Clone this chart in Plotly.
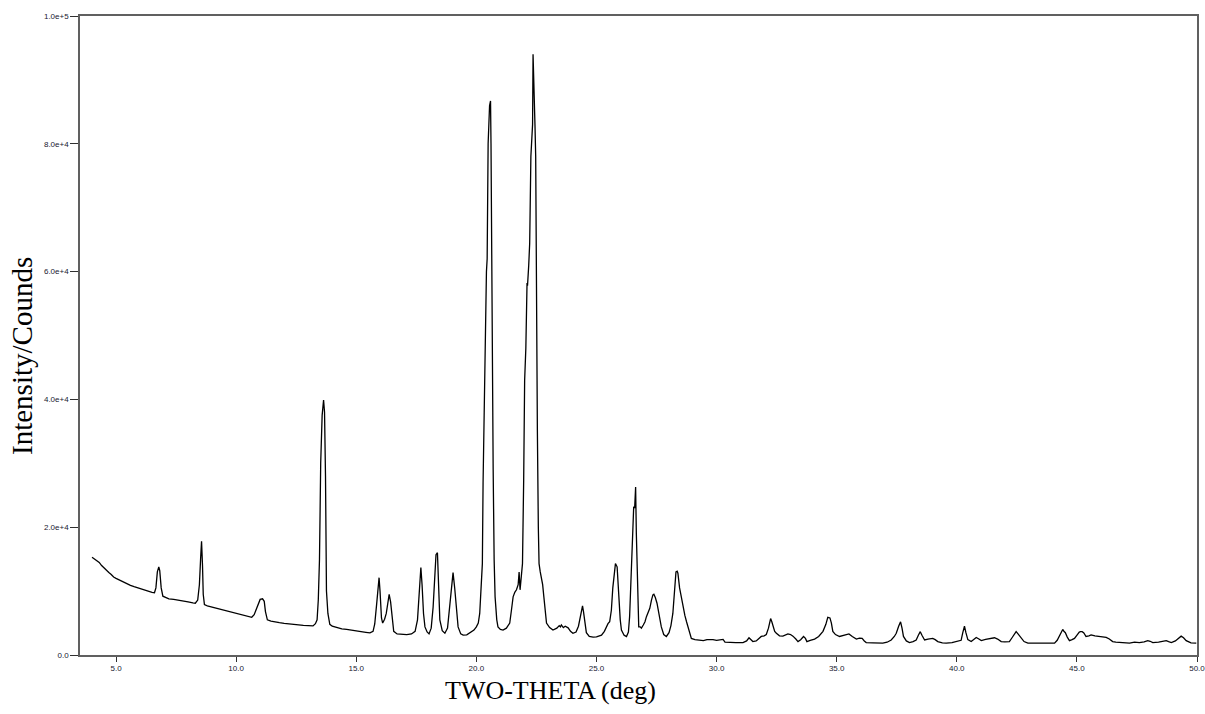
import plotly.graph_objects as go

two_theta = [
 4.00,4.10,4.20,4.30,4.40,4.50,4.60,4.70,4.80,4.90,5.00,5.15,5.30,5.45,5.60,5.75,5.90,6.05,6.20,6.35,6.50,6.60,
 6.66,6.72,6.78,6.82,6.88,6.95,7.05,7.20,7.40,7.60,7.80,8.00,8.20,8.30,8.40,8.47,8.52,8.56,8.60,8.63,8.68,8.80,
 9.00,9.20,9.40,9.60,9.80,10.00,10.20,10.40,10.55,10.65,10.75,10.90,11.00,11.10,11.17,11.22,11.30,11.45,11.60,11.80,
 12.00,12.20,12.40,12.60,12.80,13.00,13.20,13.30,13.37,13.42,13.47,13.52,13.58,13.64,13.68,13.72,13.76,13.82,13.90,
 14.00,14.20,14.40,14.60,14.80,15.00,15.20,15.40,15.57,15.70,15.77,15.85,15.92,15.95,15.99,16.05,16.10,16.18,16.25,
 16.32,16.37,16.43,16.49,16.56,16.70,16.90,17.10,17.30,17.45,17.55,17.62,17.69,17.74,17.80,17.86,17.95,18.03,18.12,
 18.20,18.27,18.32,18.38,18.42,18.48,18.58,18.69,18.80,18.89,18.96,19.03,19.10,19.17,19.24,19.35,19.45,19.60,19.75,
 19.90,20.00,20.08,20.14,20.20,20.25,20.28,20.35,20.42,20.45,20.49,20.55,20.59,20.61,20.63,20.67,20.70,20.74,20.78,
 20.85,20.90,21.00,21.11,21.25,21.39,21.46,21.53,21.60,21.67,21.74,21.78,21.82,21.87,21.92,21.97,22.01,22.06,22.09,
 22.11,22.13,22.18,22.22,22.27,22.30,22.34,22.36,22.40,22.44,22.47,22.50,22.54,22.58,22.61,22.66,22.71,22.76,22.81,
 22.86,22.92,23.05,23.19,23.35,23.45,23.50,23.54,23.62,23.70,23.82,23.92,24.02,24.15,24.25,24.32,24.38,24.42,24.46,
 24.51,24.58,24.70,24.86,25.00,25.21,25.33,25.41,25.48,25.55,25.62,25.68,25.74,25.79,25.86,25.90,25.94,25.99,26.04,
 26.15,26.25,26.33,26.38,26.43,26.48,26.52,26.55,26.59,26.63,26.66,26.69,26.73,26.76,26.82,26.87,26.95,27.02,27.08,
 27.16,27.22,27.29,27.35,27.39,27.45,27.52,27.60,27.70,27.80,27.91,28.02,28.10,28.18,28.26,28.31,28.36,28.39,28.46,
 28.53,28.60,28.68,28.75,28.81,28.88,28.95,29.10,29.30,29.45,29.60,29.71,29.85,30.00,30.15,30.27,30.35,30.54,30.80,
 31.10,31.25,31.35,31.42,31.51,31.65,31.77,31.86,31.98,32.07,32.16,32.25,32.30,32.35,32.42,32.49,32.62,32.76,32.88,
 32.97,33.08,33.18,33.30,33.39,33.50,33.62,33.70,33.76,33.90,34.08,34.25,34.43,34.55,34.63,34.72,34.78,34.84,34.95,
 35.12,35.30,35.51,35.65,35.82,35.95,36.06,36.15,36.23,36.50,36.70,36.92,37.10,37.27,37.40,37.48,37.58,37.66,37.72,
 37.78,37.90,38.03,38.18,38.31,38.40,38.48,38.55,38.66,38.80,39.00,39.10,39.21,39.40,39.56,39.80,40.04,40.18,40.25,
 40.32,40.38,40.46,40.60,40.70,40.81,40.92,41.02,41.20,41.36,41.57,41.70,41.85,42.00,42.19,42.30,42.40,42.47,42.55,
 42.68,42.80,42.96,43.30,43.60,43.85,44.07,44.18,44.27,44.35,44.41,44.46,44.52,44.60,44.69,44.80,44.90,45.02,45.10,
 45.15,45.22,45.29,45.38,45.50,45.59,45.75,45.94,46.10,46.22,46.35,46.49,46.62,46.77,47.00,47.19,47.40,47.60,47.80,
 47.95,48.05,48.16,48.40,48.60,48.72,48.82,48.93,49.10,49.25,49.34,49.44,49.55,49.75,49.97]

counts = [
 15300,15000,14700,14500,14000,13600,13300,12900,12600,12200,12000,11700,11400,11100,10900,10700,10500,10300,10100,9950,9800,9750,
 10500,13000,13800,13200,10500,9200,9000,8800,8700,8600,8450,8300,8150,8100,8600,11000,15000,17800,14000,9500,7900,7700,
 7500,7300,7150,7000,6800,6550,6350,6150,5950,5900,6300,7800,8700,8800,8400,6800,5500,5300,5150,5050,
 4950,4850,4800,4700,4650,4600,4550,4900,5500,8600,15000,30000,37500,39900,38000,28000,10000,6500,4800,
 4500,4250,4100,4000,3850,3700,3650,3550,3450,3700,4850,8000,11500,12100,10000,5800,5000,5600,6500,
 8500,9500,8300,6000,3700,3300,3250,3200,3300,3700,5500,9500,13700,11000,6500,4400,3600,3300,4200,
 7500,13000,15700,16000,12000,5500,3800,3400,4200,7500,10500,12900,10400,7000,4400,3300,3100,3150,3500,
 3900,4400,5000,6500,10000,14300,27000,45600,60000,62000,80000,86000,86700,80000,65000,49300,29000,15000,9100,
 5500,4400,4000,3900,4200,5000,7000,9100,9800,10200,11000,13000,10200,12000,14300,27400,43000,48000,55000,
 58200,57800,61000,64400,78000,80500,83000,94000,90000,83000,78000,49300,35200,20000,14300,13000,12200,11000,9100,
 6500,5000,4300,3900,4200,4600,4400,4700,4300,4500,4250,3700,3400,3600,4500,5800,7200,7700,6800,
 5400,3500,2900,2800,2850,3100,3700,4400,4900,5200,7000,10500,13000,14300,13800,11000,8600,5500,3900,
 3100,2900,3600,6000,12000,18000,21500,23200,23000,26300,19000,12800,7000,4400,4400,4200,4700,5200,6000,
 6700,7300,8600,9400,9500,9000,8100,6200,4400,3200,2900,3500,4600,6500,10000,13000,13100,12800,10500,
 9000,7600,6200,5200,4400,3200,2600,2400,2350,2250,2400,2450,2400,2300,2450,2450,2000,1950,1950,
 1950,2200,2700,2500,2100,2200,2600,2900,3000,3200,4200,5700,5200,4400,3700,3400,3000,2950,3200,
 3300,3200,2950,2500,2100,2400,2900,2600,2100,2300,2500,2900,3700,4800,5900,5800,5000,3700,3200,
 2900,3050,3300,2900,2500,2650,2600,2200,1950,1900,1850,1850,2000,2350,2900,3400,4500,5200,4200,
 2900,2200,1950,2100,2350,3100,3650,3100,2350,2500,2600,2400,2100,1900,1850,1950,2100,2300,3500,
 4500,3500,2400,2100,2400,2750,2500,2250,2450,2600,2700,2500,2100,2050,2100,2700,3300,3650,3300,
 2600,2100,1850,1850,1850,1900,1850,2300,2900,3600,4000,3700,3500,2800,2250,2400,2600,3200,3600,
 3650,3650,3450,2900,3000,3150,3000,2900,2850,2750,2500,2100,2000,1950,1850,1850,2000,1950,2050,
 2250,2150,1950,2000,2100,2250,2100,1950,2200,2600,2950,2700,2250,1900,1850]

x_ticks = [5, 10, 15, 20, 25, 30, 35, 40, 45, 50]
x_tick_text = ["5.0", "10.0", "15.0", "20.0", "25.0", "30.0", "35.0", "40.0", "45.0", "50.0"]
y_ticks = [0, 20000, 40000, 60000, 80000, 100000]
y_tick_text = ["0.0", "2.0e+4", "4.0e+4", "6.0e+4", "8.0e+4", "1.0e+5"]

fig = go.Figure()
fig.add_trace(go.Scatter(x=two_theta, y=counts, mode="lines",
                         line=dict(color="#000000", width=1.3), showlegend=False))

tick_font = dict(family="Liberation Sans, Arial, sans-serif", size=8, color="#202030")
fig.update_layout(
    width=1213, height=714,
    margin=dict(l=80, r=8, t=16, b=59),
    paper_bgcolor="white", plot_bgcolor="white",
    xaxis=dict(range=[3.5, 50], tickvals=x_ticks, ticktext=x_tick_text,
               showgrid=False, zeroline=False, showline=True, mirror=True,
               linecolor="#606060", linewidth=1.5, ticks="outside", ticklen=5,
               tickcolor="#303030", tickfont=tick_font),
    yaxis=dict(range=[0, 100000], tickvals=y_ticks, ticktext=y_tick_text,
               showgrid=False, zeroline=False, showline=True, mirror=True,
               linecolor="#606060", linewidth=1.5, ticks="outside", ticklen=8,
               tickcolor="#303030", tickfont=tick_font),
    annotations=[
        dict(text="TWO-THETA (deg)", xref="paper", yref="paper", x=0.4208, y=-0.0548,
             xanchor="center", yanchor="middle", showarrow=False,
             font=dict(family="Liberation Serif, Times New Roman, serif", size=26, color="#000")),
        dict(text="Intensity/Counds", xref="paper", yref="paper", x=-0.0519, y=0.468,
             xanchor="center", yanchor="middle", showarrow=False, textangle=-90,
             font=dict(family="Liberation Serif, Times New Roman, serif", size=29, color="#000")),
    ],
)

fig.write_html(
    "out.html",
    config={"responsive": False, "displayModeBar": False},
    post_script="document.body.style.margin='0px';document.body.style.padding='0px';document.body.style.overflow='hidden';document.documentElement.style.overflow='hidden';",
)
